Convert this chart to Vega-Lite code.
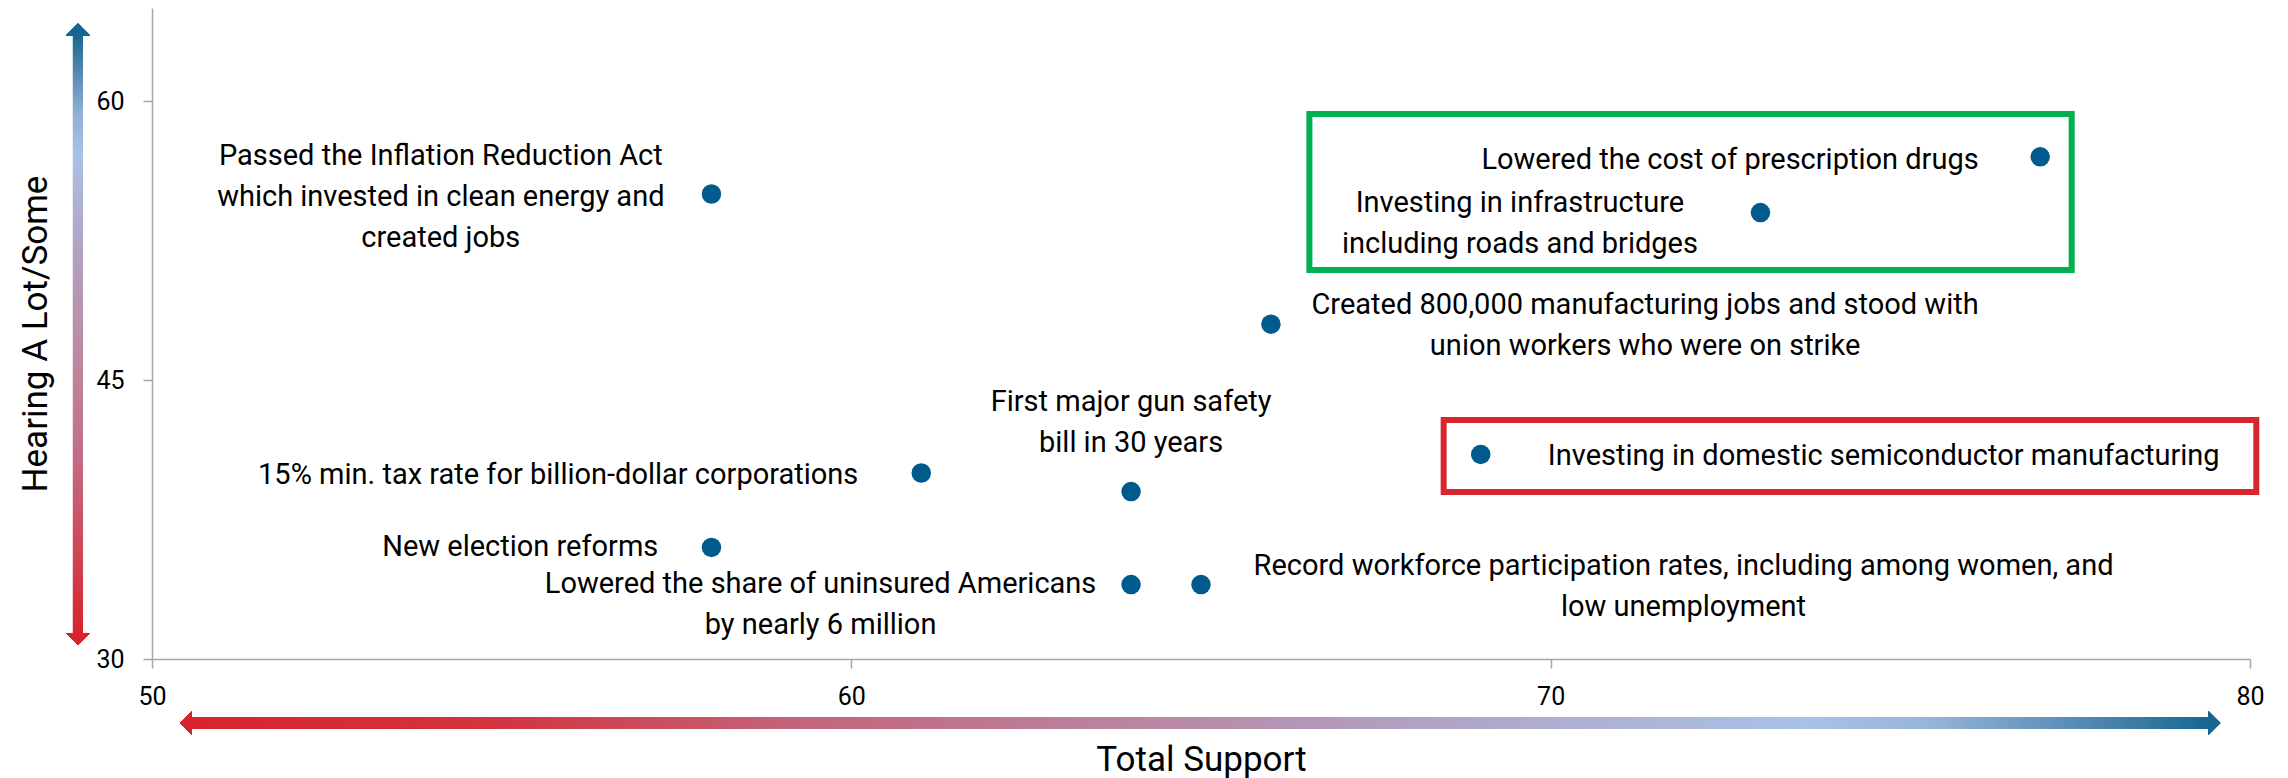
{
  "$schema": "https://vega.github.io/schema/vega-lite/v6.json",
  "width": 2098,
  "height": 651,
  "autosize": {"type": "none"},
  "padding": {"left": 152, "top": 8, "right": 38, "bottom": 119},
  "background": "white",
  "config": {
    "view": {"stroke": null},
    "font": "Roboto",
    "axis": {
      "labelFont": "Roboto", "labelFontSize": 25, "labelColor": "#000000", "labelFlush": false,
      "titleFont": "Roboto", "titleFontSize": 35, "titleFontWeight": "normal", "titleColor": "#000000",
      "domainColor": "#a6a6a6", "domainWidth": 1.5, "tickColor": "#a6a6a6", "tickWidth": 1.5, "tickSize": 9,
      "grid": false, "format": "d"
    },
    "axisX": {"labelPadding": 16, "titlePadding": 33},
    "axisY": {"labelPadding": 19, "titlePadding": 42}
  },
  "datasets": {
    "items": [
      {"item": "Passed the Inflation Reduction Act\nwhich invested in clean energy and\ncreated jobs", "support": 58, "hearing": 55, "lx": 54.13, "ly": 57.04, "side": "center"},
      {"item": "Lowered the cost of prescription drugs", "support": 77, "hearing": 57, "lx": 76.12, "ly": 56.83, "side": "right"},
      {"item": "Investing in infrastructure\nincluding roads and bridges", "support": 73, "hearing": 54, "lx": 69.56, "ly": 54.52, "side": "center"},
      {"item": "Created 800,000 manufacturing jobs and stood with\nunion workers who were on strike", "support": 66, "hearing": 48, "lx": 71.35, "ly": 49.03, "side": "center"},
      {"item": "First major gun safety\nbill in 30 years", "support": 64, "hearing": 39, "lx": 64.0, "ly": 43.82, "side": "center"},
      {"item": "15% min. tax rate for billion-dollar corporations", "support": 61, "hearing": 40, "lx": 60.1, "ly": 39.89, "side": "right"},
      {"item": "Investing in domestic semiconductor manufacturing", "support": 69, "hearing": 41, "lx": 69.96, "ly": 40.91, "side": "left"},
      {"item": "New election reforms", "support": 58, "hearing": 36, "lx": 57.24, "ly": 36.02, "side": "right"},
      {"item": "Lowered the share of uninsured Americans\nby nearly 6 million", "support": 64, "hearing": 34, "lx": 59.56, "ly": 34.03, "side": "center"},
      {"item": "Record workforce participation rates, including among women, and\nlow unemployment", "support": 65, "hearing": 34, "lx": 71.9, "ly": 35.0, "side": "center"}
    ],
    "boxes": [
      {"box": "green", "x1": 66.55, "x2": 77.45, "y1": 50.91, "y2": 59.3},
      {"box": "red", "x1": 68.47, "x2": 80.09, "y1": 38.98, "y2": 42.85}
    ]
  },
  "data": {"name": "items"},
  "layer": [
    {
      "mark": {"type": "circle", "size": 380, "opacity": 1, "color": "#005a8c"},
      "encoding": {
        "x": {"field": "support", "type": "quantitative", "title": "Total Support",
          "scale": {"domain": [50, 80], "nice": false, "zero": false},
          "axis": {"values": [50, 60, 70, 80]}},
        "y": {"field": "hearing", "type": "quantitative", "title": "Hearing A Lot/Some",
          "scale": {"domain": [30, 65], "nice": false, "zero": false},
          "axis": {"values": [30, 45, 60]}}
      }
    },
    {
      "mark": {"type": "rect", "fill": {"gradient": "linear", "x1": 0, "y1": 0, "x2": 1, "y2": 0,
        "stops": [
          {"offset": 0, "color": "#d8232e"},
          {"offset": 0.15, "color": "#d2343f"},
          {"offset": 0.3, "color": "#c4647a"},
          {"offset": 0.6, "color": "#b1a0c1"},
          {"offset": 0.68, "color": "#aeafd2"},
          {"offset": 0.8, "color": "#a9c1e6"},
          {"offset": 0.86, "color": "#97b5d9"},
          {"offset": 0.93, "color": "#5b8db7"},
          {"offset": 1, "color": "#166790"}
        ]}},
      "encoding": {
        "x": {"datum": 50.54, "type": "quantitative", "title": "Total Support", "axis": {"values": [50, 60, 70, 80]}},
        "x2": {"datum": 79.44},
        "y": {"datum": 26.27, "type": "quantitative", "title": "Hearing A Lot/Some", "axis": {"values": [30, 45, 60]}},
        "y2": {"datum": 26.85}
      }
    },
    {
      "mark": {"type": "rect", "fill": {"gradient": "linear", "x1": 0, "y1": 1, "x2": 0, "y2": 0,
        "stops": [
          {"offset": 0, "color": "#d8232e"},
          {"offset": 0.17, "color": "#cb4f60"},
          {"offset": 0.31, "color": "#c27089"},
          {"offset": 0.47, "color": "#bc8aa2"},
          {"offset": 0.64, "color": "#b2a2c2"},
          {"offset": 0.8, "color": "#a9c1e6"},
          {"offset": 0.87, "color": "#8fb0d6"},
          {"offset": 0.93, "color": "#5b8db7"},
          {"offset": 1, "color": "#166790"}
        ]}},
      "encoding": {
        "x": {"datum": 48.87, "type": "quantitative", "title": "Total Support", "axis": {"values": [50, 60, 70, 80]}},
        "x2": {"datum": 49.013},
        "y": {"datum": 31.4, "type": "quantitative", "title": "Hearing A Lot/Some", "axis": {"values": [30, 45, 60]}},
        "y2": {"datum": 63.55}
      }
    },
    {
      "mark": {"type": "point", "filled": true, "opacity": 1, "size": 576, "color": "#d8232e", "shape": "M-0.5,0L0.5,-1L0.5,1Z"},
      "encoding": {
        "x": {"datum": 50.486, "type": "quantitative", "title": "Total Support", "axis": {"values": [50, 60, 70, 80]}},
        "y": {"datum": 26.56, "type": "quantitative", "title": "Hearing A Lot/Some", "axis": {"values": [30, 45, 60]}}
      }
    },
    {
      "mark": {"type": "point", "filled": true, "opacity": 1, "size": 576, "color": "#166790", "shape": "M0.5,0L-0.5,-1L-0.5,1Z"},
      "encoding": {
        "x": {"datum": 79.49, "type": "quantitative", "title": "Total Support", "axis": {"values": [50, 60, 70, 80]}},
        "y": {"datum": 26.56, "type": "quantitative", "title": "Hearing A Lot/Some", "axis": {"values": [30, 45, 60]}}
      }
    },
    {
      "mark": {"type": "point", "filled": true, "opacity": 1, "size": 576, "color": "#166790", "shape": "M0,-0.5L-1,0.5L1,0.5Z"},
      "encoding": {
        "x": {"datum": 48.941, "type": "quantitative", "title": "Total Support", "axis": {"values": [50, 60, 70, 80]}},
        "y": {"datum": 63.84, "type": "quantitative", "title": "Hearing A Lot/Some", "axis": {"values": [30, 45, 60]}}
      }
    },
    {
      "mark": {"type": "point", "filled": true, "opacity": 1, "size": 576, "color": "#d8232e", "shape": "M0,0.5L-1,-0.5L1,-0.5Z"},
      "encoding": {
        "x": {"datum": 48.941, "type": "quantitative", "title": "Total Support", "axis": {"values": [50, 60, 70, 80]}},
        "y": {"datum": 31.075, "type": "quantitative", "title": "Hearing A Lot/Some", "axis": {"values": [30, 45, 60]}}
      }
    },
    {
      "data": {"name": "boxes"},
      "mark": {"type": "rect", "filled": false, "strokeWidth": 6},
      "encoding": {
        "x": {"field": "x1", "type": "quantitative", "title": "Total Support", "axis": {"values": [50, 60, 70, 80]}},
        "x2": {"field": "x2", "title": "Total Support"},
        "y": {"field": "y1", "type": "quantitative", "title": "Hearing A Lot/Some", "axis": {"values": [30, 45, 60]}},
        "y2": {"field": "y2", "title": "Hearing A Lot/Some"},
        "color": {"field": "box", "type": "nominal", "legend": null,
          "scale": {"domain": ["green", "red"], "range": ["#00b050", "#d7262e"]}}
      }
    },
    {
      "transform": [{"filter": "datum.side === 'center'"}],
      "mark": {"type": "text", "align": "center", "baseline": "middle", "font": "Roboto", "fontSize": 29, "color": "#000000", "lineBreak": "\n", "lineHeight": 41},
      "encoding": {
        "x": {"field": "lx", "type": "quantitative", "title": "Total Support", "axis": {"values": [50, 60, 70, 80]}},
        "y": {"field": "ly", "type": "quantitative", "title": "Hearing A Lot/Some", "axis": {"values": [30, 45, 60]}},
        "text": {"field": "item"}
      }
    },
    {
      "transform": [{"filter": "datum.side === 'right'"}],
      "mark": {"type": "text", "align": "right", "baseline": "middle", "font": "Roboto", "fontSize": 29, "color": "#000000", "lineBreak": "\n", "lineHeight": 41},
      "encoding": {
        "x": {"field": "lx", "type": "quantitative", "title": "Total Support", "axis": {"values": [50, 60, 70, 80]}},
        "y": {"field": "ly", "type": "quantitative", "title": "Hearing A Lot/Some", "axis": {"values": [30, 45, 60]}},
        "text": {"field": "item"}
      }
    },
    {
      "transform": [{"filter": "datum.side === 'left'"}],
      "mark": {"type": "text", "align": "left", "baseline": "middle", "font": "Roboto", "fontSize": 29, "color": "#000000", "lineBreak": "\n", "lineHeight": 41},
      "encoding": {
        "x": {"field": "lx", "type": "quantitative", "title": "Total Support", "axis": {"values": [50, 60, 70, 80]}},
        "y": {"field": "ly", "type": "quantitative", "title": "Hearing A Lot/Some", "axis": {"values": [30, 45, 60]}},
        "text": {"field": "item"}
      }
    }
  ]
}
